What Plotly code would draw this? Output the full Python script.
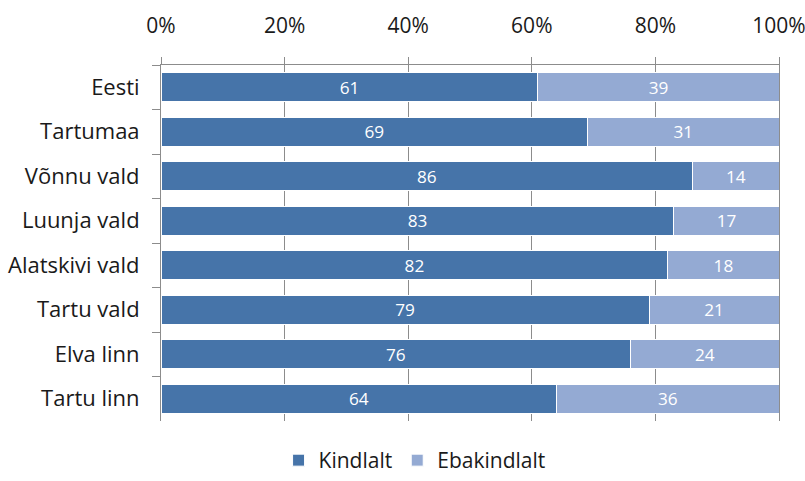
import plotly.graph_objects as go

categories = ["Eesti", "Tartumaa", "Võnnu vald", "Luunja vald",
              "Alatskivi vald", "Tartu vald", "Elva linn", "Tartu linn"]
kindlalt = [61, 69, 86, 83, 82, 79, 76, 64]
ebakindlalt = [39, 31, 14, 17, 18, 21, 24, 36]
x_ticks = [0, 20, 40, 60, 80, 100]

FONT = "Open Sans"
DARK = "#4674A9"
LIGHT = "#94AAD3"
GRID = "#8C8C8C"
SIZE = 21

fig = go.Figure()
for name, vals, col in [("Kindlalt", kindlalt, DARK), ("Ebakindlalt", ebakindlalt, LIGHT)]:
    fig.add_trace(go.Bar(
        y=categories, x=vals, name=name, orientation="h",
        marker=dict(color=col, line=dict(color="white", width=1)),
        text=[str(v) for v in vals], textposition="inside",
        insidetextanchor="middle", textangle=0,
        textfont=dict(family=FONT, size=SIZE, color="white"),
        hoverinfo="skip",
    ))

fig.update_layout(
    barmode="stack", bargap=0.35,
    width=805, height=481,
    margin=dict(l=161, r=26, t=65, b=60),
    paper_bgcolor="white", plot_bgcolor="white",
    font=dict(family=FONT, size=SIZE, color="#1a1a1a"),
    uniformtext=dict(mode="show", minsize=10),
    legend=dict(orientation="h", xref="container", x=0.515, xanchor="center",
                yref="container", y=0.0, yanchor="bottom",
                font=dict(family=FONT, size=SIZE), itemwidth=30,
                traceorder="normal"),
    xaxis=dict(side="top", range=[0, 100], tickvals=x_ticks,
               ticktext=[f"{t}%" for t in x_ticks],
               showgrid=True, gridcolor=GRID, gridwidth=1,
               showline=True, linecolor=GRID, linewidth=1,
               ticks="outside", ticklen=7, tickcolor=GRID,
               ticklabelstandoff=16, ticklabeloverflow="allow",
               zeroline=False, fixedrange=True, automargin=False),
    yaxis=dict(categoryorder="array", categoryarray=categories,
               autorange="reversed", showline=True, mirror=True,
               linecolor=GRID, linewidth=1, ticks="outside", ticklen=8,
               tickcolor=GRID, tickson="boundaries", showgrid=False,
               ticklabelstandoff=16, tickfont=dict(size=22),
               fixedrange=True, automargin=False),
)

fig.write_html("out.html")
